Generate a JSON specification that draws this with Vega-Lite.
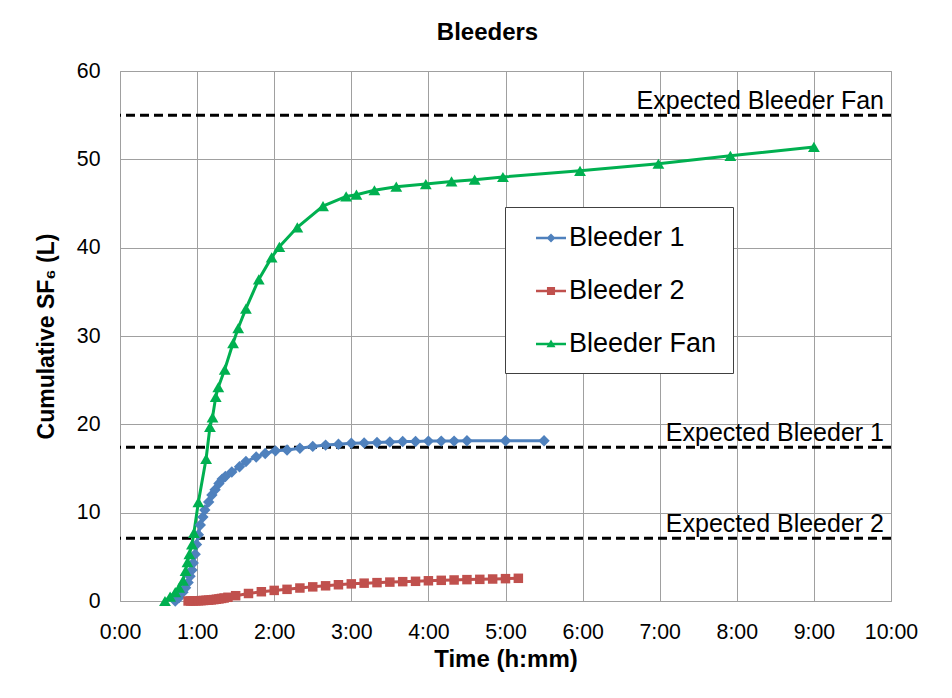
{
  "$schema": "https://vega.github.io/schema/vega-lite/v6.json",
  "width": 771,
  "height": 530,
  "autosize": {"type": "none"},
  "padding": {"left": 120, "top": 71, "right": 61, "bottom": 97},
  "background": "white",
  "title": {"text": "Bleeders", "fontSize": 24, "font": "Liberation Sans", "fontWeight": "bold", "color": "black", "offset": 15, "dx": -18, "anchor": "middle"},
  "config": {
    "font": "Liberation Sans",
    "view": {"stroke": "#a0a0a0", "strokeWidth": 1},
    "axis": {"gridColor": "#a0a0a0", "gridOpacity": 1, "gridWidth": 1, "domain": false, "ticks": false, "labelColor": "black", "titleColor": "black", "labelFont": "Liberation Sans", "titleFont": "Liberation Sans", "labelFlush": false, "labelOverlap": false}
  },
  "datasets": {
    "expected": [
      {"label": "Expected Bleeder Fan", "v": 55},
      {"label": "Expected Bleeder 1", "v": 17.4},
      {"label": "Expected Bleeder 2", "v": 7.1}
    ],
    "series": [
      {"series": "Bleeder 1", "t": 43, "v": 0},
      {"series": "Bleeder 1", "t": 46, "v": 0.4},
      {"series": "Bleeder 1", "t": 49, "v": 1.0},
      {"series": "Bleeder 1", "t": 51, "v": 1.5},
      {"series": "Bleeder 1", "t": 53, "v": 2.1},
      {"series": "Bleeder 1", "t": 54.5, "v": 2.8},
      {"series": "Bleeder 1", "t": 56, "v": 3.5},
      {"series": "Bleeder 1", "t": 57, "v": 4.3},
      {"series": "Bleeder 1", "t": 58.5, "v": 5.3},
      {"series": "Bleeder 1", "t": 59.5, "v": 6.4},
      {"series": "Bleeder 1", "t": 61, "v": 7.5},
      {"series": "Bleeder 1", "t": 62.5, "v": 8.6},
      {"series": "Bleeder 1", "t": 64.5, "v": 9.5},
      {"series": "Bleeder 1", "t": 66, "v": 10.3},
      {"series": "Bleeder 1", "t": 69, "v": 11.2},
      {"series": "Bleeder 1", "t": 71.5, "v": 12.0},
      {"series": "Bleeder 1", "t": 74, "v": 12.6},
      {"series": "Bleeder 1", "t": 77, "v": 13.3},
      {"series": "Bleeder 1", "t": 79.5, "v": 13.8},
      {"series": "Bleeder 1", "t": 82, "v": 14.1},
      {"series": "Bleeder 1", "t": 87, "v": 14.6},
      {"series": "Bleeder 1", "t": 93, "v": 15.2},
      {"series": "Bleeder 1", "t": 98, "v": 15.8},
      {"series": "Bleeder 1", "t": 106, "v": 16.3},
      {"series": "Bleeder 1", "t": 113, "v": 16.7},
      {"series": "Bleeder 1", "t": 121, "v": 17.0},
      {"series": "Bleeder 1", "t": 130, "v": 17.1},
      {"series": "Bleeder 1", "t": 140, "v": 17.3},
      {"series": "Bleeder 1", "t": 150, "v": 17.5},
      {"series": "Bleeder 1", "t": 160, "v": 17.65},
      {"series": "Bleeder 1", "t": 170, "v": 17.75},
      {"series": "Bleeder 1", "t": 180, "v": 17.85},
      {"series": "Bleeder 1", "t": 190, "v": 17.9},
      {"series": "Bleeder 1", "t": 200, "v": 17.95},
      {"series": "Bleeder 1", "t": 210, "v": 18.0},
      {"series": "Bleeder 1", "t": 220, "v": 18.05},
      {"series": "Bleeder 1", "t": 230, "v": 18.05},
      {"series": "Bleeder 1", "t": 240, "v": 18.1},
      {"series": "Bleeder 1", "t": 250, "v": 18.1},
      {"series": "Bleeder 1", "t": 260, "v": 18.1},
      {"series": "Bleeder 1", "t": 270, "v": 18.15},
      {"series": "Bleeder 1", "t": 300, "v": 18.15},
      {"series": "Bleeder 1", "t": 330, "v": 18.15},
      {"series": "Bleeder 2", "t": 53, "v": 0},
      {"series": "Bleeder 2", "t": 55, "v": 0},
      {"series": "Bleeder 2", "t": 57, "v": 0.01},
      {"series": "Bleeder 2", "t": 59, "v": 0.02},
      {"series": "Bleeder 2", "t": 61, "v": 0.03},
      {"series": "Bleeder 2", "t": 63, "v": 0.04},
      {"series": "Bleeder 2", "t": 65, "v": 0.06},
      {"series": "Bleeder 2", "t": 67, "v": 0.08},
      {"series": "Bleeder 2", "t": 69, "v": 0.1},
      {"series": "Bleeder 2", "t": 71, "v": 0.13},
      {"series": "Bleeder 2", "t": 73, "v": 0.16},
      {"series": "Bleeder 2", "t": 75, "v": 0.2},
      {"series": "Bleeder 2", "t": 77, "v": 0.24},
      {"series": "Bleeder 2", "t": 79, "v": 0.29},
      {"series": "Bleeder 2", "t": 81, "v": 0.34},
      {"series": "Bleeder 2", "t": 84, "v": 0.42},
      {"series": "Bleeder 2", "t": 90, "v": 0.6},
      {"series": "Bleeder 2", "t": 100, "v": 0.85},
      {"series": "Bleeder 2", "t": 110, "v": 1.05},
      {"series": "Bleeder 2", "t": 120, "v": 1.2},
      {"series": "Bleeder 2", "t": 130, "v": 1.32},
      {"series": "Bleeder 2", "t": 140, "v": 1.47},
      {"series": "Bleeder 2", "t": 150, "v": 1.6},
      {"series": "Bleeder 2", "t": 160, "v": 1.72},
      {"series": "Bleeder 2", "t": 170, "v": 1.84},
      {"series": "Bleeder 2", "t": 180, "v": 1.94},
      {"series": "Bleeder 2", "t": 190, "v": 2.02},
      {"series": "Bleeder 2", "t": 200, "v": 2.08},
      {"series": "Bleeder 2", "t": 210, "v": 2.14},
      {"series": "Bleeder 2", "t": 220, "v": 2.19},
      {"series": "Bleeder 2", "t": 230, "v": 2.23},
      {"series": "Bleeder 2", "t": 240, "v": 2.29},
      {"series": "Bleeder 2", "t": 250, "v": 2.34},
      {"series": "Bleeder 2", "t": 260, "v": 2.38},
      {"series": "Bleeder 2", "t": 270, "v": 2.42},
      {"series": "Bleeder 2", "t": 280, "v": 2.45},
      {"series": "Bleeder 2", "t": 290, "v": 2.49},
      {"series": "Bleeder 2", "t": 300, "v": 2.53},
      {"series": "Bleeder 2", "t": 310, "v": 2.57},
      {"series": "Bleeder Fan", "t": 35, "v": 0},
      {"series": "Bleeder Fan", "t": 39, "v": 0.5},
      {"series": "Bleeder Fan", "t": 43, "v": 1.0},
      {"series": "Bleeder Fan", "t": 46, "v": 1.5},
      {"series": "Bleeder Fan", "t": 49, "v": 2.3},
      {"series": "Bleeder Fan", "t": 51, "v": 3.4},
      {"series": "Bleeder Fan", "t": 52.5, "v": 4.4},
      {"series": "Bleeder Fan", "t": 54, "v": 5.3},
      {"series": "Bleeder Fan", "t": 56, "v": 6.4},
      {"series": "Bleeder Fan", "t": 57.5, "v": 7.7},
      {"series": "Bleeder Fan", "t": 61, "v": 11.2},
      {"series": "Bleeder Fan", "t": 67, "v": 16.1},
      {"series": "Bleeder Fan", "t": 70, "v": 19.7},
      {"series": "Bleeder Fan", "t": 72, "v": 20.8},
      {"series": "Bleeder Fan", "t": 74.5, "v": 23.1},
      {"series": "Bleeder Fan", "t": 76.5, "v": 24.2},
      {"series": "Bleeder Fan", "t": 81.5, "v": 26.2},
      {"series": "Bleeder Fan", "t": 88, "v": 29.2},
      {"series": "Bleeder Fan", "t": 92, "v": 30.9},
      {"series": "Bleeder Fan", "t": 98, "v": 33.1},
      {"series": "Bleeder Fan", "t": 108, "v": 36.4},
      {"series": "Bleeder Fan", "t": 118, "v": 38.9},
      {"series": "Bleeder Fan", "t": 124, "v": 40.1},
      {"series": "Bleeder Fan", "t": 138, "v": 42.3},
      {"series": "Bleeder Fan", "t": 158, "v": 44.7},
      {"series": "Bleeder Fan", "t": 176, "v": 45.8},
      {"series": "Bleeder Fan", "t": 184, "v": 46.0},
      {"series": "Bleeder Fan", "t": 198, "v": 46.5},
      {"series": "Bleeder Fan", "t": 215, "v": 46.9},
      {"series": "Bleeder Fan", "t": 238, "v": 47.2},
      {"series": "Bleeder Fan", "t": 258, "v": 47.5},
      {"series": "Bleeder Fan", "t": 276, "v": 47.7},
      {"series": "Bleeder Fan", "t": 298, "v": 48.0},
      {"series": "Bleeder Fan", "t": 358, "v": 48.7},
      {"series": "Bleeder Fan", "t": 419, "v": 49.5},
      {"series": "Bleeder Fan", "t": 475, "v": 50.4},
      {"series": "Bleeder Fan", "t": 540, "v": 51.4}
    ]
  },
  "layer": [
    {
      "data": {"name": "expected"},
      "mark": {"type": "rule", "strokeDash": [9, 5], "strokeWidth": 3, "color": "black"},
      "encoding": {
        "y": {"field": "v", "type": "quantitative", "scale": {"domain": [0, 60], "nice": false}}
      }
    },
    {
      "data": {"name": "expected"},
      "mark": {"type": "text", "align": "right", "baseline": "alphabetic", "dx": -7, "dy": -6, "fontSize": 25, "color": "black", "font": "Liberation Sans"},
      "encoding": {
        "x": {"datum": 600, "type": "quantitative", "scale": {"domain": [0, 600], "nice": false}},
        "y": {"field": "v", "type": "quantitative", "scale": {"domain": [0, 60], "nice": false}},
        "text": {"field": "label"}
      }
    },
    {
      "data": {"name": "series"},
      "mark": {"type": "line", "strokeWidth": 3},
      "encoding": {
        "x": {"field": "t", "type": "quantitative", "scale": {"domain": [0, 600], "nice": false},
          "axis": {"title": "Time (h:mm)", "values": [0, 60, 120, 180, 240, 300, 360, 420, 480, 540, 600], "labelExpr": "floor(datum.value / 60) + ':00'", "labelFontSize": 21.3, "labelPadding": 20, "titleFontSize": 24, "titleFontWeight": "bold", "titlePadding": 5, "grid": true}},
        "y": {"field": "v", "type": "quantitative", "scale": {"domain": [0, 60], "nice": false},
          "axis": {"title": "Cumulative SF₆ (L)", "values": [0, 10, 20, 30, 40, 50, 60], "labelFontSize": 21.3, "labelPadding": 20, "titleFontSize": 23, "titleFontWeight": "bold", "titlePadding": 18, "grid": true}},
        "color": {"field": "series", "type": "nominal",
          "scale": {"domain": ["Bleeder 1", "Bleeder 2", "Bleeder Fan"], "range": ["#4F81BD", "#C0504D", "#00B050"]},
          "legend": {
            "orient": "none", "legendX": 385, "legendY": 136, "title": null,
            "padding": 16, "strokeColor": "#404040", "fillColor": "white",
            "labelFontSize": 27, "labelFont": "Liberation Sans", "labelColor": "black",
            "labelLimit": 400,
            "symbolOffset": 15, "labelOffset": 3, "rowPadding": 25, "symbolSize": 900,
            "symbolType": "M-1,-0.08H1V0.08H-1Z",
            "symbolStrokeWidth": 0,
            "labelExpr": "datum.label + '\u2003'",
            "encode": {
              "symbols": {
                "update": {
                  "shape": {"signal": "datum.value === 'Bleeder 1' ? 'M-1,-0.08H1V0.08H-1Z M0,-0.3L0.3,0L0,0.3L-0.3,0Z' : (datum.value === 'Bleeder 2' ? 'M-1,-0.08H1V0.08H-1Z M-0.27,-0.27H0.27V0.27H-0.27Z' : 'M-1,-0.08H1V0.08H-1Z M0,-0.3L0.3,0.22L-0.3,0.22Z')"},
                  "fill": {"signal": "datum.value === 'Bleeder 1' ? '#4F81BD' : (datum.value === 'Bleeder 2' ? '#C0504D' : '#00B050')"},
                  "fillOpacity": {"value": 1},
                  "strokeWidth": {"value": 0}
                }
              }
            }
          }
        }
      }
    },
    {
      "data": {"name": "series"},
      "transform": [{"filter": "datum.series === 'Bleeder 1'"}],
      "mark": {"type": "point", "filled": true, "opacity": 1, "shape": "diamond", "size": 130, "color": "#4F81BD"},
      "encoding": {
        "x": {"field": "t", "type": "quantitative", "scale": {"domain": [0, 600], "nice": false}},
        "y": {"field": "v", "type": "quantitative", "scale": {"domain": [0, 60], "nice": false}}
      }
    },
    {
      "data": {"name": "series"},
      "transform": [{"filter": "datum.series === 'Bleeder 2'"}],
      "mark": {"type": "point", "filled": true, "opacity": 1, "shape": "square", "size": 90, "color": "#C0504D"},
      "encoding": {
        "x": {"field": "t", "type": "quantitative", "scale": {"domain": [0, 600], "nice": false}},
        "y": {"field": "v", "type": "quantitative", "scale": {"domain": [0, 60], "nice": false}}
      }
    },
    {
      "data": {"name": "series"},
      "transform": [{"filter": "datum.series === 'Bleeder Fan'"}],
      "mark": {"type": "point", "filled": true, "opacity": 1, "shape": "triangle-up", "size": 140, "color": "#00B050"},
      "encoding": {
        "x": {"field": "t", "type": "quantitative", "scale": {"domain": [0, 600], "nice": false}},
        "y": {"field": "v", "type": "quantitative", "scale": {"domain": [0, 60], "nice": false}}
      }
    }
  ]
}
